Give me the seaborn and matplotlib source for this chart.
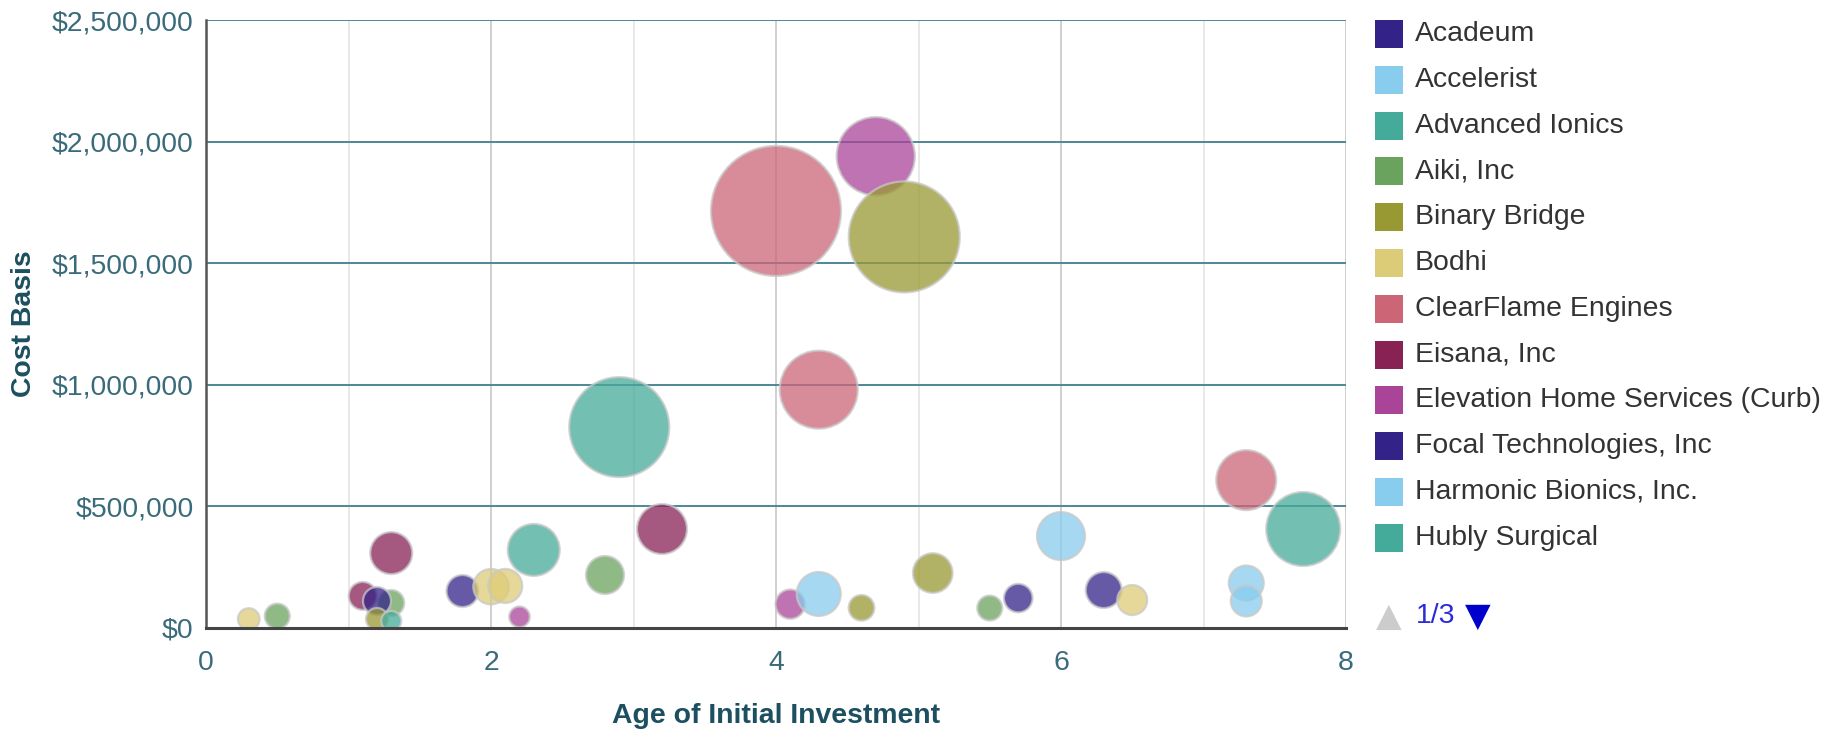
import matplotlib

matplotlib.use("Agg")
import matplotlib.pyplot as plt
import pandas as pd
import seaborn as sns
from matplotlib.patches import Rectangle
from matplotlib.ticker import FuncFormatter, MultipleLocator

# one entry per bubble
companies = [
    "Bodhi", "Aiki, Inc", "Eisana, Inc", "Aiki, Inc", "Acadeum", "Binary Bridge",
    "Hubly Surgical", "Eisana, Inc", "Focal Technologies, Inc", "Bodhi", "Bodhi",
    "Elevation Home Services (Curb)", "Hubly Surgical", "Aiki, Inc", "Advanced Ionics",
    "Eisana, Inc", "ClearFlame Engines", "Elevation Home Services (Curb)", "Accelerist",
    "ClearFlame Engines", "Binary Bridge", "Elevation Home Services (Curb)", "Binary Bridge",
    "Binary Bridge", "Aiki, Inc", "Focal Technologies, Inc", "Harmonic Bionics, Inc.",
    "Acadeum", "Bodhi", "ClearFlame Engines", "Harmonic Bionics, Inc.", "Accelerist",
    "Advanced Ionics",
]
age_years = [
    0.3, 0.5, 1.1, 1.3, 1.2, 1.2, 1.3, 1.3, 1.8, 2.0, 2.1, 2.2, 2.3, 2.8, 2.9, 3.2,
    4.0, 4.1, 4.3, 4.3, 4.6, 4.7, 4.9, 5.1, 5.5, 5.7, 6.0, 6.3, 6.5, 7.3, 7.3, 7.3, 7.7,
]
cost_basis = [
    37000, 49000, 132000, 103000, 111000, 37000, 29000, 308000, 152000, 170000, 173000,
    46000, 321000, 218000, 826000, 407000, 1715000, 98000, 140000, 980000, 83000,
    1940000, 1608000, 226000, 82000, 123000, 378000, 156000, 115000, 608000, 185000,
    111000, 407000,
]
bubble_value = [
    117, 156, 196, 169, 196, 121, 100, 441, 256, 313, 289, 106, 676, 361, 2500, 625,
    4225, 216, 484, 1521, 164, 1530, 3080, 392, 156, 204, 576, 324, 225, 900, 306,
    240, 1369,
]

legend_names = [
    "Acadeum", "Accelerist", "Advanced Ionics", "Aiki, Inc", "Binary Bridge", "Bodhi",
    "ClearFlame Engines", "Eisana, Inc", "Elevation Home Services (Curb)",
    "Focal Technologies, Inc", "Harmonic Bionics, Inc.", "Hubly Surgical",
]
legend_colors = [
    "#332288", "#88CCEE", "#44AA99", "#6AA35E", "#999933", "#DDCC77",
    "#CC6677", "#882255", "#AA4499", "#332288", "#88CCEE", "#44AA99",
]

W, H = 1835, 734
TICK_COLOR = "#3a6b7b"
TITLE_COLOR = "#1c4f5f"
FS = 20.4

sns.set_theme(style="white")
plt.rcParams["font.family"] = ["Liberation Sans", "DejaVu Sans"]

df = pd.DataFrame(
    {"company": companies, "age": age_years, "cost": cost_basis, "value": bubble_value}
)
palette = dict(zip(legend_names, legend_colors))

fig = plt.figure(figsize=(W / 100, H / 100), dpi=100)
ax = fig.add_axes([206 / W, 1 - 628 / H, (1346 - 206) / W, (628 - 20) / H])

ax.set_xlim(0, 8)
ax.set_ylim(0, 2_500_000)
ax.xaxis.set_major_locator(MultipleLocator(2))
ax.xaxis.set_minor_locator(MultipleLocator(1))
ax.yaxis.set_major_locator(MultipleLocator(500_000))
ax.yaxis.set_major_formatter(FuncFormatter(lambda v, _: f"${v:,.0f}"))

ax.grid(which="major", axis="x", color="#cccccc", linewidth=1.3)
ax.grid(which="minor", axis="x", color="#e6e6e6", linewidth=1.3)
ax.grid(which="major", axis="y", color="#4f8798", linewidth=1.4)
ax.set_axisbelow(True)

# area is proportional to the bubble value
sns.scatterplot(
    data=df,
    x="age",
    y="cost",
    hue="company",
    palette=palette,
    size="value",
    sizes=(0, 10900),
    size_norm=(0, 5256),
    alpha=0.75,
    edgecolor="#c8c8c8",
    linewidth=1.6,
    legend=False,
    ax=ax,
)

for side in ("top", "right"):
    ax.spines[side].set_visible(False)
ax.spines["left"].set_color("#555555")
ax.spines["left"].set_linewidth(1.8)
ax.spines["bottom"].set_color("#444444")
ax.spines["bottom"].set_linewidth(2.2)

ax.tick_params(axis="both", which="both", length=0, labelsize=FS, labelcolor=TICK_COLOR)
ax.tick_params(axis="y", pad=9)
ax.tick_params(axis="x", pad=16)

ax.set_xlabel("Age of Initial Investment", fontsize=FS, fontweight="bold", color=TITLE_COLOR)
ax.set_ylabel("Cost Basis", fontsize=FS, fontweight="bold", color=TITLE_COLOR)
ax.xaxis.set_label_coords(0.5, (628 - 716) / 608)
ax.xaxis.label.set_va("center")
ax.yaxis.set_label_coords((24 - 206) / 1140, 0.5)
ax.yaxis.label.set_va("center")

# legend, page 1 of 3
for i, (name, color) in enumerate(zip(legend_names, legend_colors)):
    yc = 34 + 45.8 * i
    fig.patches.append(
        Rectangle((1375 / W, 1 - (yc + 14) / H), 28 / W, 28 / H,
                  transform=fig.transFigure, facecolor=color, edgecolor="none")
    )
    fig.text(1415 / W, 1 - yc / H, name, fontsize=FS, color="#333333", va="center")

fig.text(1389 / W, 1 - 616 / H, "▲", fontsize=24, color="#cccccc",
         ha="center", va="center", family="DejaVu Sans")
fig.text(1416 / W, 1 - 616 / H, "1/3", fontsize=FS, color="#2b2bd9", va="center")
fig.text(1478 / W, 1 - 616 / H, "▼", fontsize=24, color="#0000cc",
         ha="center", va="center", family="DejaVu Sans")

fig.savefig("out.png", dpi=100)
